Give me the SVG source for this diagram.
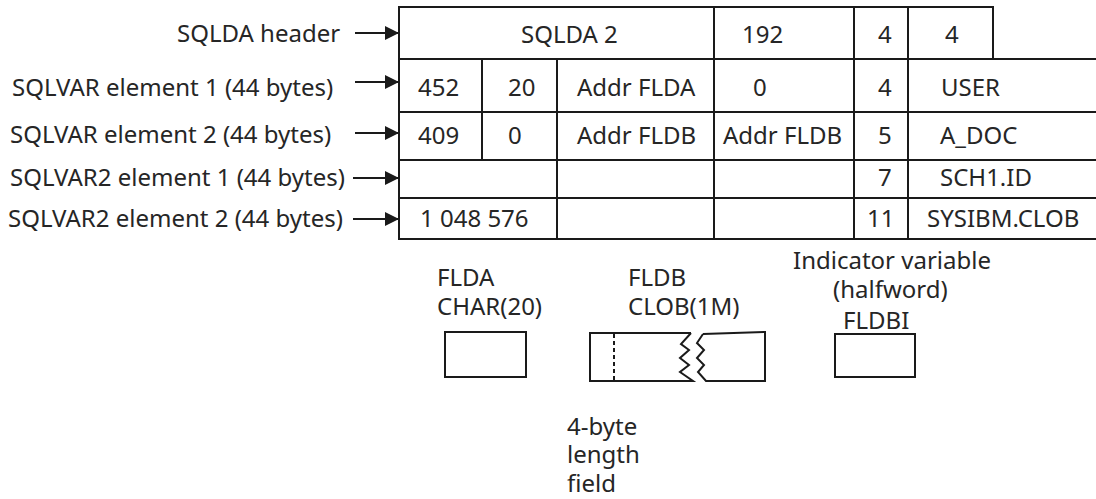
<svg xmlns="http://www.w3.org/2000/svg" width="1096" height="499" viewBox="0 0 1096 499">
<defs>
<style>
text{font-family:"Noto Sans","Liberation Sans",sans-serif;fill:#262626;}
.t{font-size:24px;}
.s{font-size:24px;}
.ln{stroke:#1a1a1a;stroke-width:2;fill:none;}
.box{stroke:#1a1a1a;stroke-width:2;fill:#fff;}
</style>
<marker id="ah" markerUnits="userSpaceOnUse" markerWidth="16" markerHeight="16" refX="14" refY="8" orient="auto">
<path d="M0,1 L14,8 L0,15 Z" fill="#1a1a1a"/>
</marker>
</defs>
<rect width="1096" height="499" fill="#fff"/>

<g id="labels">
<text class="t" x="177" y="42">SQLDA header</text>
<text class="t" x="12" y="96">SQLVAR element 1 (44 bytes)</text>
<text class="t" x="10" y="143">SQLVAR element 2 (44 bytes)</text>
<text class="t" x="10" y="186">SQLVAR2 element 1 (44 bytes)</text>
<text class="t" x="8" y="227">SQLVAR2 element 2 (44 bytes)</text>
</g>

<g id="connectors">
<line class="ln" x1="355" y1="33" x2="399" y2="33" marker-end="url(#ah)"/>
<line class="ln" x1="355" y1="82" x2="399" y2="82" marker-end="url(#ah)"/>
<line class="ln" x1="355" y1="133" x2="399" y2="133" marker-end="url(#ah)"/>
<line class="ln" x1="353" y1="178" x2="399" y2="178" marker-end="url(#ah)"/>
<line class="ln" x1="353" y1="219" x2="399" y2="219" marker-end="url(#ah)"/>
</g>

<g id="sqlda-table">
<g class="ln">
<line x1="399" y1="7" x2="993" y2="7"/>
<line x1="399" y1="59" x2="1096" y2="59"/>
<line x1="399" y1="112" x2="1096" y2="112"/>
<line x1="399" y1="160" x2="1096" y2="160"/>
<line x1="399" y1="198" x2="1096" y2="198"/>
<line x1="399" y1="239" x2="1096" y2="239"/>
<line x1="399" y1="6" x2="399" y2="240"/>
<line x1="482" y1="59" x2="482" y2="160"/>
<line x1="557" y1="59" x2="557" y2="240"/>
<line x1="714" y1="6" x2="714" y2="240"/>
<line x1="854" y1="6" x2="854" y2="240"/>
<line x1="908" y1="6" x2="908" y2="240"/>
<line x1="993" y1="6" x2="993" y2="59"/>
</g>
<text class="t" x="521" y="43">SQLDA 2</text>
<text class="t" x="742" y="43">192</text>
<text class="t" x="878" y="43">4</text>
<text class="t" x="945" y="43">4</text>

<text class="t" x="418" y="96">452</text>
<text class="t" x="508" y="96">20</text>
<text class="t" x="577" y="96">Addr FLDA</text>
<text class="t" x="753" y="96">0</text>
<text class="t" x="878" y="96">4</text>
<text class="t" x="941" y="96">USER</text>

<text class="t" x="418" y="144">409</text>
<text class="t" x="508" y="144">0</text>
<text class="t" x="577" y="144">Addr FLDB</text>
<text class="t" x="723" y="144">Addr FLDB</text>
<text class="t" x="878" y="144">5</text>
<text class="t" x="940" y="144">A_DOC</text>

<text class="t" x="878" y="186">7</text>
<text class="t" x="940" y="186">SCH1.ID</text>

<text class="t" x="420" y="227">1 048 576</text>
<text class="t" x="867" y="227">11</text>
<text class="t" x="927" y="227">SYSIBM.CLOB</text>
</g>

<g id="fld-a">
<text class="s" x="437" y="286">FLDA</text>
<text class="s" x="437" y="315">CHAR(20)</text>
<rect class="box" x="445" y="332" width="81" height="45"/>
</g>

<g id="fld-b">
<text class="s" x="628" y="286">FLDB</text>
<text class="s" x="628" y="315">CLOB(1M)</text>
<path class="ln" d="M691,333 L590,333 L590,381 L693,381 L680,372 L689,365 L680,358 L689,350 L681,344 L691,333"/>
<path class="ln" d="M703,334 L765,332 L765,381 L706,381 L698,372 L704,365 L697,358 L704,350 L697,343 L703,334"/>
<line class="ln" x1="614" y1="334" x2="614" y2="380" stroke-dasharray="4,3"/>
<text class="s" x="567" y="435">4-byte</text>
<text class="s" x="567" y="463">length</text>
<text class="s" x="567" y="492">field</text>
</g>

<g id="fld-bi">
<text class="s" x="793" y="269">Indicator variable</text>
<text class="s" x="833" y="298">(halfword)</text>
<text class="s" x="843" y="329">FLDBI</text>
<rect class="box" x="835" y="334" width="80" height="43"/>
</g>
</svg>
